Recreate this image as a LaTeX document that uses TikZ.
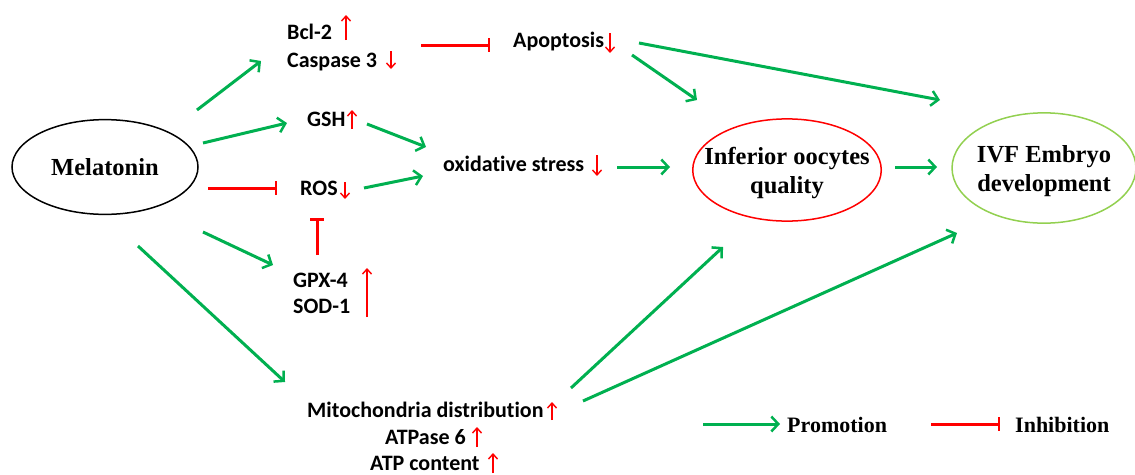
\documentclass[tikz,border=0pt]{standalone}
\usepackage{fontspec}
\setmainfont{Liberation Serif}
\newfontfamily\labfont[Ligatures=NoCommon]{Carlito}
\usetikzlibrary{arrows.meta, shapes.geometric}
\definecolor{promgreen}{RGB}{0,176,80}
\definecolor{ivfgreen}{RGB}{146,208,80}
\tikzset{
	txt/.style={font=\labfont\bfseries\fontsize{22}{26}\selectfont, anchor=base west, inner sep=0pt},
	oval/.style={ellipse, line width=1.5pt, align=center, text depth=0pt,
		font=\bfseries\fontsize{24.5}{29}\selectfont},
	prom/.style={promgreen, line width=3pt, -{Straight Barb[length=7pt, width=15pt, line width=2.5pt]}},
	inhib/.style={red, line width=3pt, -{Bar[width=14pt, line width=2.5pt]}},
	redarr/.style={red, line width=1.6pt, -{Straight Barb[length=5pt, width=9pt, line width=1.4pt]}}
}
\begin{document}
\begin{tikzpicture}[x=1pt, y=-1pt]
				\useasboundingbox (0,0) rectangle (1135,474);

				\node[oval, draw=black, inner xsep=12pt, inner ysep=25pt] (mel) at (105,167) {Melatonin};
				\node[oval, draw=red, inner xsep=-16pt, inner ysep=13pt] (inf) at (787,170) {Inferior oocytes\\quality};
				\node[oval, draw=ivfgreen, inner xsep=-2pt, inner ysep=16pt] (ivf) at (1044,168) {IVF Embryo\\development};

				\node[txt] (bcl) at (287,39) {Bcl-2};
				\node[txt] (casp) at (287,67) {Caspase 3};
				\node[txt] (apop) at (513,47) {Apoptosis};
				\node[txt] (gsh) at (307,126) {GSH};
				\node[txt] (ros) at (300,195) {ROS};
				\node[txt] (gpx) at (293,287) {GPX-4};
				\node[txt] (sod) at (293,313) {SOD-1};
				\node[txt] (ox) at (443,171) {oxidative stress};
				\node[txt] (mito) at (307,417) {Mitochondria distribution};
				\node[txt] (atpase) at (385,444) {ATPase 6};
				\node[txt] (atp) at (370,470) {ATP content};

				\draw[redarr] (346,40) -- (346,15);
				\draw[redarr] (391,51) -- (391,69);
				\draw[redarr] (610,33) -- (610,53);
				\draw[redarr] (352,129) -- (352,110);
				\draw[redarr] (345,182) -- (345,199);
				\draw[redarr] (367,317) -- (367,268);
				\draw[redarr] (597,155) -- (597,176);
				\draw[redarr] (552,420) -- (552,402);
				\draw[redarr] (477,447) -- (477,427);
				\draw[redarr] (493,473) -- (493,453);

				\draw[prom] ([shift={(92,-57)}]mel.center) -- ([shift={(-26,-6)}]casp.base west);
				\draw[prom] ([shift={(98,-24)}]mel.center) -- ([shift={(-20,-3)}]gsh.base west);
				\draw[inhib] ([shift={(103,21)}]mel.center) -- ([shift={(-23,-7)}]ros.base west);
				\draw[prom] ([shift={(98,65)}]mel.center) -- ([shift={(-20,-22)}]gpx.base west);
				\draw[prom] ([shift={(33,79)}]mel.center) -- ([shift={(-22,-35)}]mito.base west);

				\draw[prom] ([shift={(60,-2)}]gsh.base west) -- ([shift={(-17,-24)}]ox.base west);
				\draw[prom] ([shift={(64,-7)}]ros.base west) -- ([shift={(-20,5)}]ox.base west);
				\draw[inhib] ([shift={(24,-32)}]gpx.base west) -- ([shift={(17,23)}]ros.base west);
				\draw[inhib] ([shift={(134,-22)}]casp.base west) -- ([shift={(-23,-2)}]apop.base west);

				\draw[prom] ([shift={(174,-4)}]ox.base west) -- ([shift={(-117,-3)}]inf.center);
				\draw[prom] ([shift={(119,8)}]apop.base west) -- ([shift={(-90,-70)}]inf.center);
				\draw[prom] ([shift={(126,-4)}]apop.base west) -- ([shift={(-104,-68)}]ivf.center);
				\draw[prom] ([shift={(108,-3)}]inf.center) -- ([shift={(-107,-1)}]ivf.center);
				\draw[prom] ([shift={(264,-29)}]mito.base west) -- ([shift={(-64,77)}]inf.center);
				\draw[prom] ([shift={(276,-16)}]mito.base west) -- ([shift={(-87,65)}]ivf.center);

				\node[anchor=base west, inner sep=0pt, font=\bfseries\fontsize{22}{26}\selectfont] (promo) at (787,432) {Promotion};
				\node[anchor=base west, inner sep=0pt, font=\bfseries\fontsize{22}{26}\selectfont] (inhibo) at (1015,432) {Inhibition};
				\draw[prom] ([shift={(-84,-8)}]promo.base west) -- ([shift={(-7,-8)}]promo.base west);
				\draw[inhib] ([shift={(-84,-8)}]inhibo.base west) -- ([shift={(-15,-8)}]inhibo.base west);

			\end{tikzpicture}
\end{document}
